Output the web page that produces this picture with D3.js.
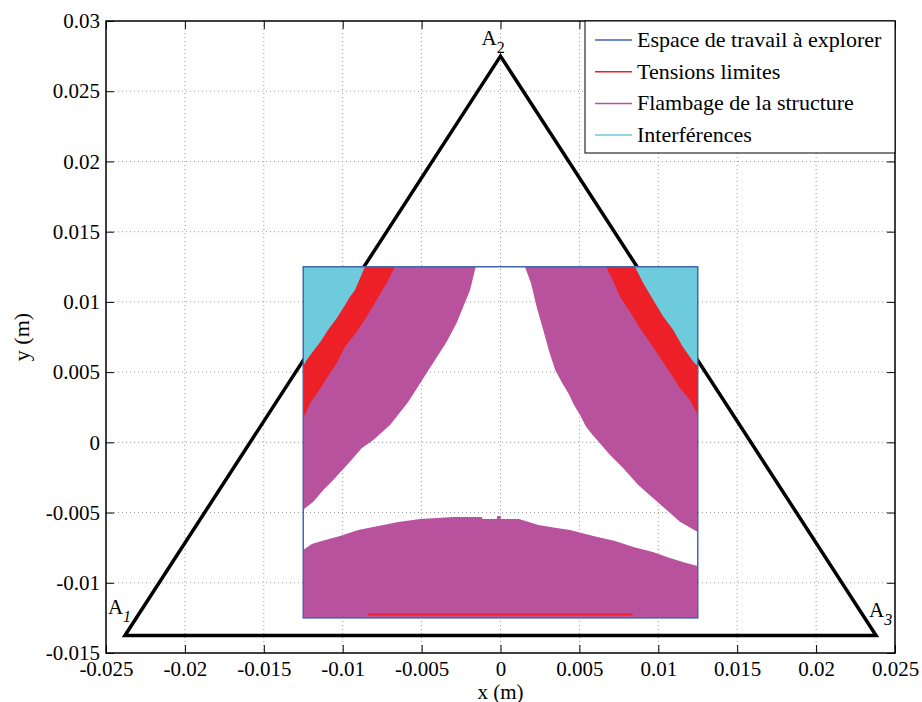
<!DOCTYPE html>
<html>
<head>
<meta charset="utf-8">
<script src="https://cdn.jsdelivr.net/npm/d3@7/dist/d3.min.js"></script>
<style>
  body { margin: 0; background: #ffffff; }
</style>
</head>
<body>
<script>

// ==== Data ====
var xTicks = [-0.025, -0.02, -0.015, -0.01, -0.005, 0, 0.005, 0.01, 0.015, 0.02, 0.025];
var yTicks = [-0.015, -0.01, -0.005, 0, 0.005, 0.01, 0.015, 0.02, 0.025, 0.03];

// workspace to explore (square)
var workX = [-0.0125, 0.0125];
var workY = [-0.0125, 0.0125];

// triangle vertices A1, A2, A3
var vertexNames = ["1", "2", "3"];
var vertexX = [-0.0238, 0, 0.0238];
var vertexY = [-0.01375, 0.0275, -0.01375];

var legendLabels = ["Espace de travail à explorer", "Tensions limites", "Flambage de la structure", "Interférences"];

// boundaries, each from the top edge down to the side edge
var interfLeft = [[-0.00859, 0.0125], [-0.00890, 0.01168], [-0.00922, 0.01084], [-0.00954, 0.01037],
    [-0.00985, 0.00978], [-0.01038, 0.00883], [-0.01070, 0.00835], [-0.01101, 0.00788],
    [-0.01133, 0.00728], [-0.01165, 0.00681], [-0.01197, 0.00634], [-0.01228, 0.00586],
    [-0.0125, 0.00543]];

var tensionLeft = [[-0.00669, 0.0125], [-0.00721, 0.01134], [-0.00785, 0.01013], [-0.00848, 0.00894],
    [-0.00911, 0.00788], [-0.00985, 0.00681], [-0.01038, 0.00565], [-0.01101, 0.00458],
    [-0.01155, 0.00360], [-0.01207, 0.00280], [-0.01239, 0.00194], [-0.0125, 0.00194]];

var bucklingLeft = [[-0.00157, 0.0125], [-0.00193, 0.01084], [-0.00236, 0.00966], [-0.00278, 0.00849],
    [-0.00341, 0.00716], [-0.00415, 0.00586], [-0.00489, 0.00456], [-0.00584, 0.00289],
    [-0.00700, 0.00123], [-0.00806, 0.00016], [-0.00880, -0.00043], [-0.00954, -0.00138],
    [-0.01060, -0.00268], [-0.01123, -0.00340], [-0.01186, -0.00423], [-0.01239, -0.00470],
    [-0.0125, -0.00482]];

var bucklingRight = [[0.00155, 0.0125], [0.00193, 0.01134], [0.00229, 0.00966], [0.00271, 0.00800],
    [0.00309, 0.00645], [0.00347, 0.00515], [0.00392, 0.00420], [0.00430, 0.00349],
    [0.00466, 0.00266], [0.00504, 0.00194], [0.00542, 0.00111], [0.00584, 0.00052],
    [0.00630, -0.00007], [0.00694, -0.00090], [0.00778, -0.00185], [0.00873, -0.00304],
    [0.00968, -0.00399], [0.01053, -0.00482], [0.01137, -0.00565], [0.0125, -0.00639]];

var tensionRight = [[0.00669, 0.0125], [0.00711, 0.01156], [0.00757, 0.01037], [0.00821, 0.00930],
    [0.00884, 0.00812], [0.00958, 0.00693], [0.01022, 0.00586], [0.01085, 0.00479],
    [0.01138, 0.00385], [0.01201, 0.00301], [0.0125, 0.00194]];

var interfRight = [[0.00852, 0.0125], [0.00905, 0.01132], [0.00968, 0.01013], [0.01032, 0.00894],
    [0.01095, 0.00800], [0.01155, 0.00681], [0.01222, 0.00574], [0.0125, 0.00543]];

// lower buckling zone, top boundary from left to right
var bucklingBottom = [[-0.0125, -0.00767], [-0.01196, -0.00724], [-0.01133, -0.00703], [-0.01017, -0.00667],
    [-0.00901, -0.00624], [-0.00743, -0.00589], [-0.00648, -0.00568], [-0.00510, -0.00546],
    [-0.00295, -0.00532], [-0.00119, -0.00532], [-0.00113, -0.00546], [-0.00024, -0.00546],
    [-0.00020, -0.00525], [0.00001, -0.00525], [0.00001, -0.00546], [0.00117, -0.00546],
    [0.00240, -0.00589], [0.00356, -0.00610], [0.00440, -0.00624], [0.00588, -0.00667],
    [0.00726, -0.00703], [0.00842, -0.00745], [0.00965, -0.00781], [0.01074, -0.00824],
    [0.01176, -0.00859], [0.0125, -0.00881]];

// thin tension strip along the bottom edge
var tensionBottomX = [-0.0084, 0.00837];
var tensionBottomY = -0.01225;


// ==== Style ====
var blue_col = "#4266b2",
    red_col = "#ed1f27",
    purple_col = "#b8529d",
    cyan_col = "#6dcbdb";

var serif = '"Liberation Serif", "Times New Roman", serif';

var margin = { top: 21, right: 27, bottom: 49, left: 106 },
    width = 922 - margin.left - margin.right,
    height = 702 - margin.top - margin.bottom;

var svg = d3.select("body")
    .append("svg")
    .attr("width", 922)
    .attr("height", 702)
    .append("g")
        .attr("transform", "translate(" + margin.left + "," + margin.top + ")");

var x = d3.scaleLinear().domain([-0.025, 0.025]).range([0, width]);
var y = d3.scaleLinear().domain([-0.015, 0.03]).range([height, 0]);

var line = d3.line()
    .x(function(d) { return x(d[0]); })
    .y(function(d) { return y(d[1]); });


// ==== Grid ====
svg.append("g").selectAll("line")
    .data(xTicks.slice(1, -1))
    .enter().append("line")
        .attr("x1", function(d) { return x(d); })
        .attr("x2", function(d) { return x(d); })
        .attr("y1", 0)
        .attr("y2", height)
        .attr("stroke", "#9a9a9a")
        .attr("stroke-width", 1)
        .attr("stroke-dasharray", "1,3");

svg.append("g").selectAll("line")
    .data(yTicks.slice(1, -1))
    .enter().append("line")
        .attr("y1", function(d) { return y(d); })
        .attr("y2", function(d) { return y(d); })
        .attr("x1", 0)
        .attr("x2", width)
        .attr("stroke", "#9a9a9a")
        .attr("stroke-width", 1)
        .attr("stroke-dasharray", "1,3");


// ==== Triangle ====
var tri = vertexX.map(function(v, i) { return [v, vertexY[i]]; });

svg.append("path")
    .attr("d", line(tri) + "Z")
    .attr("fill", "none")
    .attr("stroke", "black")
    .attr("stroke-width", 3.5)
    .attr("stroke-linejoin", "miter");


// ==== Regions ====
var cornerTL = [workX[0], workY[1]],
    cornerTR = [workX[1], workY[1]];

function region(pts, col) {
    svg.append("path")
        .attr("d", line(pts) + "Z")
        .attr("fill", col)
        .attr("stroke", "none");
}

region([cornerTL].concat(bucklingLeft), purple_col);
region([cornerTR].concat(bucklingRight), purple_col);
region(bucklingBottom.concat([[workX[1], workY[0]], [workX[0], workY[0]]]), purple_col);

region([cornerTL].concat(tensionLeft), red_col);
region([cornerTR].concat(tensionRight), red_col);

region([cornerTL].concat(interfLeft), cyan_col);
region([cornerTR].concat(interfRight), cyan_col);

svg.append("line")
    .attr("x1", x(tensionBottomX[0]))
    .attr("x2", x(tensionBottomX[1]))
    .attr("y1", y(tensionBottomY))
    .attr("y2", y(tensionBottomY))
    .attr("stroke", red_col)
    .attr("stroke-width", 2);

// workspace outline
svg.append("rect")
    .attr("x", x(workX[0]))
    .attr("y", y(workY[1]))
    .attr("width", x(workX[1]) - x(workX[0]))
    .attr("height", y(workY[0]) - y(workY[1]))
    .attr("fill", "none")
    .attr("stroke", blue_col)
    .attr("stroke-width", 1.5);


// ==== Vertex labels ====
var labelOffsets = [[-17, -21], [-19, -11], [-7, -18]];

vertexNames.forEach(function(n, i) {
    var t = svg.append("text")
        .attr("x", x(vertexX[i]) + labelOffsets[i][0])
        .attr("y", y(vertexY[i]) + labelOffsets[i][1])
        .attr("font-family", serif)
        .attr("font-size", "21px")
        .attr("fill", "black");
    t.append("tspan").text("A");
    t.append("tspan")
        .attr("dy", 8)
        .attr("font-size", "16px")
        .attr("font-style", i == 1 ? "normal" : "italic")
        .text(n);
});


// ==== Axes ====
var xAxis = svg.append("g")
    .attr("transform", "translate(0," + height + ")")
    .call(d3.axisBottom(x).tickValues(xTicks).tickSize(-8).tickPadding(8)
        .tickFormat(function(d) { return String(d); }));

var yAxis = svg.append("g")
    .call(d3.axisLeft(y).tickValues(yTicks).tickSize(-8).tickPadding(6)
        .tickFormat(function(d) { return String(d); }));

svg.append("g")
    .call(d3.axisTop(x).tickValues(xTicks).tickSize(-8).tickFormat(""));

svg.append("g")
    .attr("transform", "translate(" + width + ",0)")
    .call(d3.axisRight(y).tickValues(yTicks).tickSize(-8).tickFormat(""));

svg.selectAll(".domain").remove();
svg.selectAll(".tick line").attr("stroke", "black").attr("stroke-width", 1);
svg.selectAll(".tick text")
    .attr("font-family", serif)
    .attr("font-size", "21px")
    .attr("fill", "black");

svg.append("rect")
    .attr("width", width)
    .attr("height", height)
    .attr("fill", "none")
    .attr("stroke", "black")
    .attr("stroke-width", 1.5);

svg.append("text")
    .text("x (m)")
    .attr("x", width / 2)
    .attr("y", height + 45.5)
    .attr("text-anchor", "middle")
    .attr("font-family", serif)
    .attr("font-size", "21px");

svg.append("text")
    .text("y (m)")
    .attr("transform", "translate(" + (29 - margin.left) + "," + (height / 2) + ") rotate(-90)")
    .attr("text-anchor", "middle")
    .attr("font-family", serif)
    .attr("font-size", "22px");


// ==== Legend ====
var legendCols = [blue_col, red_col, purple_col, cyan_col];
var legend = svg.append("g")
    .attr("transform", "translate(" + (width - 310) + ",0)");

legend.append("rect")
    .attr("width", 310)
    .attr("height", 132)
    .attr("fill", "white")
    .attr("stroke", "black")
    .attr("stroke-width", 1);

var rows = legend.selectAll("g.row")
    .data(legendLabels)
    .enter().append("g")
        .attr("class", "row")
        .attr("transform", function(d, i) { return "translate(0," + (19 + i * 31.7) + ")"; });

rows.append("line")
    .attr("x1", 10)
    .attr("x2", 47)
    .attr("stroke", function(d, i) { return legendCols[i]; })
    .attr("stroke-width", 1.5);

rows.append("text")
    .text(function(d) { return d; })
    .attr("x", 52)
    .attr("y", 7)
    .attr("font-family", serif)
    .attr("font-size", "22px")
    .attr("fill", "black");

</script>
</body>
</html>
